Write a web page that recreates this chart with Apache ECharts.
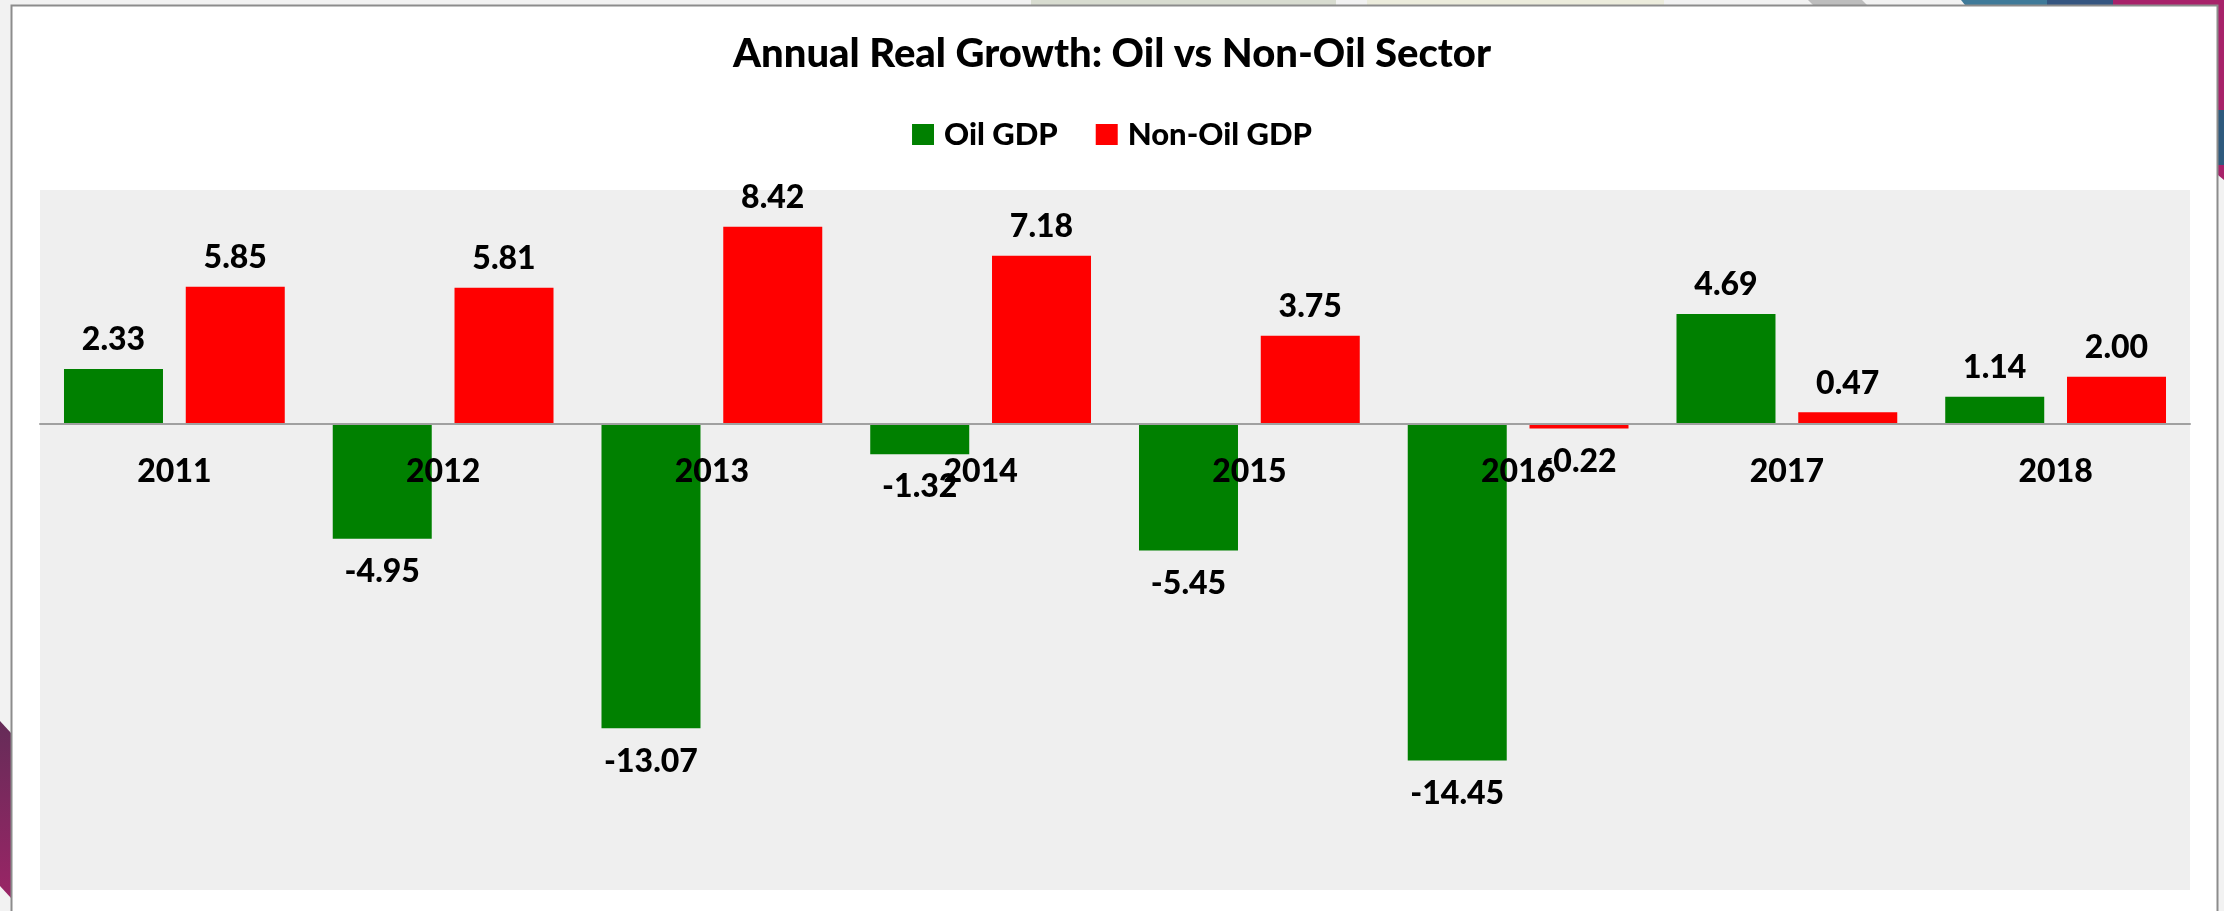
<!DOCTYPE html>
<html>
<head>
<meta charset="utf-8">
<title>Annual Real Growth: Oil vs Non-Oil Sector</title>
<script src="https://cdn.jsdelivr.net/npm/echarts@6/dist/echarts.min.js"></script>
<style>
  html, body { margin: 0; padding: 0; background: #F2F2F2; }
  #chart { width: 2224px; height: 911px; }
</style>
</head>
<body>
<div id="chart"></div>
<script>
// Annual real growth rates (%), by year
const years = ['2011', '2012', '2013', '2014', '2015', '2016', '2017', '2018'];
const oilGdp = [2.33, -4.95, -13.07, -1.32, -5.45, -14.45, 4.69, 1.14];
const nonOilGdp = [5.85, 5.81, 8.42, 7.18, 3.75, -0.22, 0.47, 2.00];
const seriesNames = ['Oil GDP', 'Non-Oil GDP'];
const seriesColors = ['#008000', '#FF0000'];

const FONT = 'Lato, "Open Sans", "Liberation Sans", sans-serif';
const WEIGHT = 900;

const valueLabelText = {
  fontFamily: FONT, fontWeight: WEIGHT, fontSize: 32, color: '#000000'
};

// Positive values get their label above the bar, negative ones below it
function withLabels(values) {
  return values.map(v => ({
    value: v,
    label: Object.assign({}, valueLabelText, v < 0
      ? { position: 'bottom', distance: 17 }
      : { position: 'top', distance: 13 })
  }));
}

const GRID = { left: 40, right: 34, top: 190, bottom: 21 };

const chart = echarts.init(document.getElementById('chart'), null, { renderer: 'canvas' });

const option = {
  backgroundColor: '#F2F2F2',
  animation: false,
  graphic: [
    // slide decorations peeking around the chart frame
    { type: 'rect', silent: true, z: -10, shape: { x: 1031, y: 0, width: 305, height: 5 }, style: { fill: '#D8DCD0' } },
    { type: 'rect', silent: true, z: -10, shape: { x: 1367, y: 0, width: 297, height: 5 }, style: { fill: '#ECECDC' } },
    { type: 'polygon', silent: true, z: -10, shape: { points: [[1808, 0], [1862, 0], [1867, 5], [1813, 5]] }, style: { fill: '#BDBDBD' } },
    { type: 'polygon', silent: true, z: -10, shape: { points: [[1961, 0], [2047, 0], [2047, 5], [1965, 5]] }, style: { fill: '#3F7A99' } },
    { type: 'rect', silent: true, z: -10, shape: { x: 2047, y: 0, width: 66, height: 5 }, style: { fill: '#355580' } },
    { type: 'rect', silent: true, z: -10, shape: { x: 2113, y: 0, width: 111, height: 5 }, style: { fill: '#A8226A' } },
    { type: 'rect', silent: true, z: -10, shape: { x: 2218, y: 0, width: 6, height: 110 }, style: { fill: '#A8226A' } },
    { type: 'rect', silent: true, z: -10, shape: { x: 2218, y: 110, width: 6, height: 55 }, style: { fill: '#2E5A7E' } },
    { type: 'polygon', silent: true, z: -10, shape: { points: [[2218, 165], [2224, 165], [2224, 180], [2218, 175]] }, style: { fill: '#A8226A' } },
    {
      type: 'polygon', silent: true, z: -10,
      shape: { points: [[0, 721], [11, 733], [11, 898], [0, 886]] },
      style: {
        fill: new echarts.graphic.LinearGradient(0, 0, 0, 1, [
          { offset: 0, color: '#652C58' },
          { offset: 1, color: '#9A2566' }
        ])
      }
    },
    // white chart frame
    {
      type: 'rect', silent: true, z: -5,
      shape: { x: 11.5, y: 5.5, width: 2206, height: 920 },
      style: { fill: '#FFFFFF', stroke: '#8C8C8C', lineWidth: 2 }
    }
  ],
  title: {
    text: 'Annual Real Growth: Oil vs Non-Oil Sector',
    left: 'center',
    top: 29,
    textStyle: { fontFamily: FONT, fontWeight: WEIGHT, fontSize: 40, color: '#000000' }
  },
  legend: {
    data: seriesNames,
    left: 'center',
    top: 114,
    icon: 'rect',
    itemWidth: 22,
    itemHeight: 21,
    itemGap: 38,
    textStyle: {
      fontFamily: FONT, fontWeight: WEIGHT, fontSize: 31, color: '#000000',
      padding: [0, 0, 0, 5]
    }
  },
  grid: Object.assign({
    show: true, backgroundColor: '#EFEFEF', borderWidth: 0,
    containLabel: false,
    outerBoundsMode: 'none'
  }, GRID),
  xAxis: {
    type: 'category',
    data: years,
    position: 'bottom',
    offset: 0,
    z: 10,
    axisLine: { onZero: false, lineStyle: { color: '#A0A0A0', width: 2 } },
    axisTick: { show: false },
    splitLine: { show: false },
    axisLabel: {
      margin: 32,
      interval: 0,
      hideOverlap: false,
      fontFamily: FONT, fontWeight: WEIGHT, fontSize: 32, color: '#000000'
    }
  },
  yAxis: {
    type: 'value',
    min: -20,
    max: 10,
    interval: 5,
    axisLine: { show: false },
    axisTick: { show: false },
    axisLabel: { show: false },
    splitLine: { show: false }
  },
  series: [
    {
      name: seriesNames[0],
      type: 'bar',
      data: withLabels(oilGdp),
      barWidth: 99,
      barGap: '23%',
      itemStyle: { color: seriesColors[0] },
      label: Object.assign({ show: true, formatter: p => p.value.toFixed(2) }, valueLabelText)
    },
    {
      name: seriesNames[1],
      type: 'bar',
      data: withLabels(nonOilGdp),
      barWidth: 99,
      barGap: '23%',
      itemStyle: { color: seriesColors[1] },
      label: Object.assign({ show: true, formatter: p => p.value.toFixed(2) }, valueLabelText)
    }
  ]
};

chart.setOption(option);

// Lift the category axis (line and year labels) from the grid's bottom edge up to the zero value
const zeroY = chart.convertToPixel({ yAxisIndex: 0 }, 0);
const bottomY = 911 - GRID.bottom;
chart.setOption({ xAxis: { offset: zeroY - bottomY } });
</script>
</body>
</html>
